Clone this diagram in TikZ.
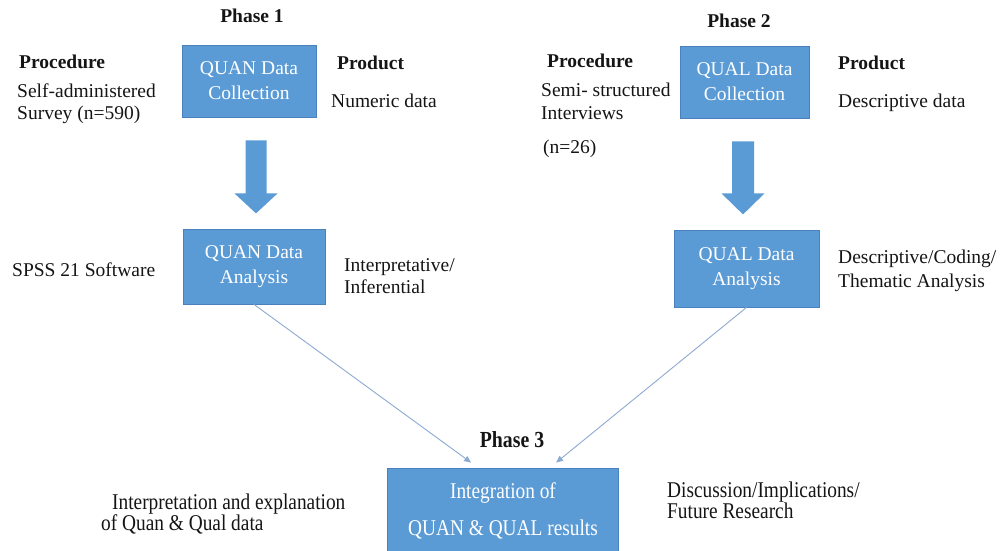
\documentclass[tikz,border=0pt]{standalone}
\usepackage{fontspec}
\setmainfont{Liberation Serif}
\newfontfamily\narrowserif[FakeStretch=0.86]{Liberation Serif}
\usetikzlibrary{arrows.meta,calc}
\definecolor{boxblue}{HTML}{5B9BD5}
\definecolor{boxedge}{HTML}{4A80BC}
\definecolor{linkblue}{HTML}{8EAAD2}
\definecolor{ink}{HTML}{151515}
\begin{document}
\begin{tikzpicture}[x=1pt,y=-1pt,
  lbl/.style={anchor=base west,inner sep=0pt,text=ink,font=\fontsize{19.5}{23}\selectfont},
  head/.style={lbl,font=\fontsize{19.5}{23}\selectfont\bfseries},
  nlbl/.style={anchor=base west,inner sep=0pt,text=ink,font=\narrowserif\fontsize{22.5}{27}\selectfont},
  nhead/.style={anchor=base,inner sep=0pt,text=ink,font=\narrowserif\bfseries\fontsize{23}{27}\selectfont},
  stagebox/.style={draw=boxedge,fill=boxblue,line width=0.8pt,text=white,align=center,
    inner sep=0pt,font=\fontsize{19.5}{25}\selectfont},
  blockarrow/.style={fill=boxblue},
  link/.style={draw=linkblue,line width=0.9pt,-{Triangle[length=7pt,width=6pt]}}]
\clip (0,0) rectangle (1000,550);
\fill[white] (0,0) rectangle (1000,550);

% ---- Phase 1: quantitative strand ----
\node[head,anchor=base] (ph1) at (252,22) {Phase 1};
\node[head] (proc1) at (19,68) {Procedure};
\node[lbl] (self) at (17,97) {Self-administered};
\node[lbl] (survey) at (17,119) {Survey (n=590)};
\node[head] (prod1) at (337,69) {Product};
\node[lbl] (numeric) at (331,107) {Numeric data};

\node[stagebox,minimum width=134pt,minimum height=72pt] (qnC) at (249,81) {QUAN Data\\Collection};
\node[stagebox,minimum width=142pt,minimum height=75pt] (qnA) at (254,266.5) {QUAN Data\\Analysis};

\node[lbl] (spss) at (12,276) {SPSS 21 Software};
\node[lbl] (interp1) at (344,271) {Interpretative/};
\node[lbl] (interp2) at (344,293) {Inferential};

% block arrow from collection to analysis
\fill[blockarrow] ($(qnC.south)+(7,23)$) ++(-10.5,0) -- ++(21,0) -- ++(0,53) -- ++(11,0)
  -- ++(-21.5,20) -- ++(-21.5,-20) -- ++(11,0) -- cycle;

% ---- Phase 2: qualitative strand ----
\node[head,anchor=base] (ph2) at (739,27) {Phase 2};
\node[head] (proc2) at (547,67) {Procedure};
\node[lbl] (semi) at (541,96) {Semi- structured};
\node[lbl] (intv) at (541,119) {Interviews};
\node[lbl] (n26) at (543,153) {(n=26)};
\node[head] (prod2) at (838,69) {Product};
\node[lbl] (descd) at (838,107) {Descriptive data};

\node[stagebox,minimum width=129pt,minimum height=72pt] (qlC) at (744.5,82) {QUAL Data\\Collection};
\node[stagebox,minimum width=145pt,minimum height=77pt] (qlA) at (746.5,268.5) {QUAL Data\\Analysis};

\node[lbl] (dcode) at (838,263) {Descriptive/Coding/};
\node[lbl] (thema) at (838,287) {Thematic Analysis};

\fill[blockarrow] ($(qlC.south)+(-1.5,23)$) ++(-11,0) -- ++(22,0) -- ++(0,52) -- ++(10.5,0)
  -- ++(-21.5,21) -- ++(-21.5,-21) -- ++(10.5,0) -- cycle;

% ---- Phase 3: integration ----
\node[nhead] (ph3) at (512,447) {Phase 3};
\node[stagebox,minimum width=231pt,minimum height=86pt,
  font=\narrowserif\fontsize{22.5}{37}\selectfont] (integ) at (503,511)
  {Integration of\\QUAN \& QUAL results};

\node[nlbl] (expl1) at (112,509) {Interpretation and explanation};
\node[nlbl] (expl2) at (101,530) {of Quan \& Qual data};
\node[nlbl] (disc1) at (667,497) {Discussion/Implications/};
\node[nlbl] (disc2) at (667,518) {Future Research};

% both analyses feed the integration step
\coordinate (inL) at ([xshift=84pt,yshift=5pt]integ.north west);
\coordinate (inR) at ([xshift=169pt,yshift=5pt]integ.north west);
\draw[link] (qnA.south) -- (inL);
\draw[link] (qlA.south) -- (inR);
\end{tikzpicture}
\end{document}
